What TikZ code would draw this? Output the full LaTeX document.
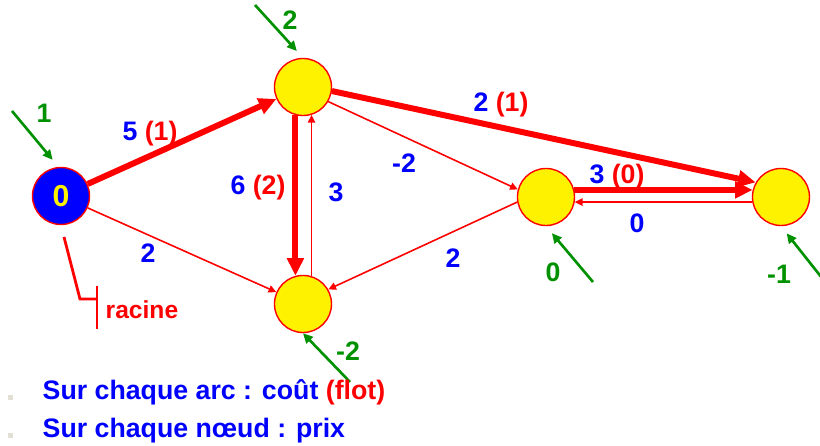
\documentclass[tikz,border=0pt]{standalone}
\usepackage{fontspec}
\setmainfont{Liberation Sans}
\usepackage{tikz}
\usetikzlibrary{arrows.meta}
\definecolor{costblue}{RGB}{0,0,255}
\definecolor{flowred}{RGB}{255,0,0}
\definecolor{pricegreen}{RGB}{0,145,0}
\definecolor{bulletgray}{RGB}{226,223,212}
\newcommand{\arcval}[2]{\textcolor{costblue}{#1} \textcolor{flowred}{(#2)}}

\begin{document}
\begin{tikzpicture}[x=0.01cm,y=-0.01cm,
    font=\fontsize{7.6}{9}\selectfont\bfseries,
    vertex/.style={circle,draw=flowred,line width=0.4pt,fill=yellow,minimum size=0.57cm,inner sep=0pt},
    heavy/.style={draw=flowred,line width=1.7pt,-{Triangle[length=5pt,width=4.6pt]}},
    light/.style={draw=flowred,line width=0.45pt,-{Triangle[length=2.2pt,width=2.1pt]}},
    price/.style={draw=pricegreen,line width=0.75pt,-{Triangle[length=2.8pt,width=2.6pt]},shorten >=2.6pt},
    cost/.style={text=costblue,inner sep=0pt},
    prix/.style={text=pricegreen,inner sep=0pt}]
    \useasboundingbox (0,0) rectangle (820,446);

    % sommets
    \node[vertex,fill=costblue,text=yellow,font=\fontsize{8.6}{9}\selectfont\bfseries] (s) at (61,196) {0};
    \foreach \name/\x/\y in {a/303/87, b/303/304, c/546/197, d/781/197}{
      \node[vertex] (\name) at (\x,\y) {};
    }

    % arcs avec flot
    \draw[heavy] (s) -- (a);
    \draw[heavy] (a.255) -- (b.105);
    \draw[heavy] (a.352) -- (d.150);
    \draw[heavy] (c.14) -- (d.166);
    % arcs sans flot
    \draw[light] (s) -- (b);
    \draw[light] (b.73) -- (a.287);
    \draw[light] (a.330) -- (c.165);
    \draw[light] (c.190) -- (b.30);
    \draw[light] (d.190) -- (c.350);

    % couts (flots)
    \node[inner sep=0pt] (l-sa) at (150,134) {\arcval{5}{1}};
    \node[inner sep=0pt] (l-ab) at (258,188) {\arcval{6}{2}};
    \node[inner sep=0pt] (l-ad) at (501,105) {\arcval{2}{1}};
    \node[inner sep=0pt] (l-cd) at (617,177) {\arcval{3}{0}};
    \node[cost] (l-sb) at (148,253) {2};
    \node[cost] (l-ba) at (336,192) {3};
    \node[cost] (l-ac) at (404,163) {-2};
    \node[cost] (l-cb) at (453,258) {2};
    \node[cost] (l-dc) at (637,223) {0};

    % prix
    \foreach \v/\px/\py/\lx/\ly/\val/\ang in {
      s/12/111/44/113/1/95,
      a/255/5/290/20/2/90,
      c/593/282/553/272/0/270,
      d/822/278/779/274/-1/270}{
      \coordinate (p-\v) at (\px,\py);
      \node[prix] (q-\v) at (\lx,\ly) {\val};
      \draw[price] (p-\v) -- (\v.\ang);
    }
    \coordinate (p-b) at (350,382);
    \node[prix] (q-b) at (348,351) {-2};
    \draw[price,shorten >=0pt] (p-b) -- (b.south);

    % racine
    \coordinate (r0) at (64,237);
    \coordinate (r1) at (80,299);
    \coordinate (r2) at (97,299);
    \draw[flowred,line width=0.8pt] (r0) -- (r1) -- (r2);
    \draw[flowred,line width=0.8pt] (97,286) -- (97,329);
    \node[text=flowred,anchor=west,inner sep=0pt,font=\fontsize{7}{8}\selectfont\bfseries] (racine) at (105,310) {racine};

    % legende
    \foreach \y/\txt in {400/{Sur chaque arc : coût \textcolor{flowred}{(flot)}},
                         438/{Sur chaque nœud : prix}}{
      \fill[bulletgray] (8,\y-5) rectangle (13,\y);
      \node[text=costblue,anchor=base west,inner sep=0pt] at (42,\y) {\txt};
    }
\end{tikzpicture}
\end{document}
